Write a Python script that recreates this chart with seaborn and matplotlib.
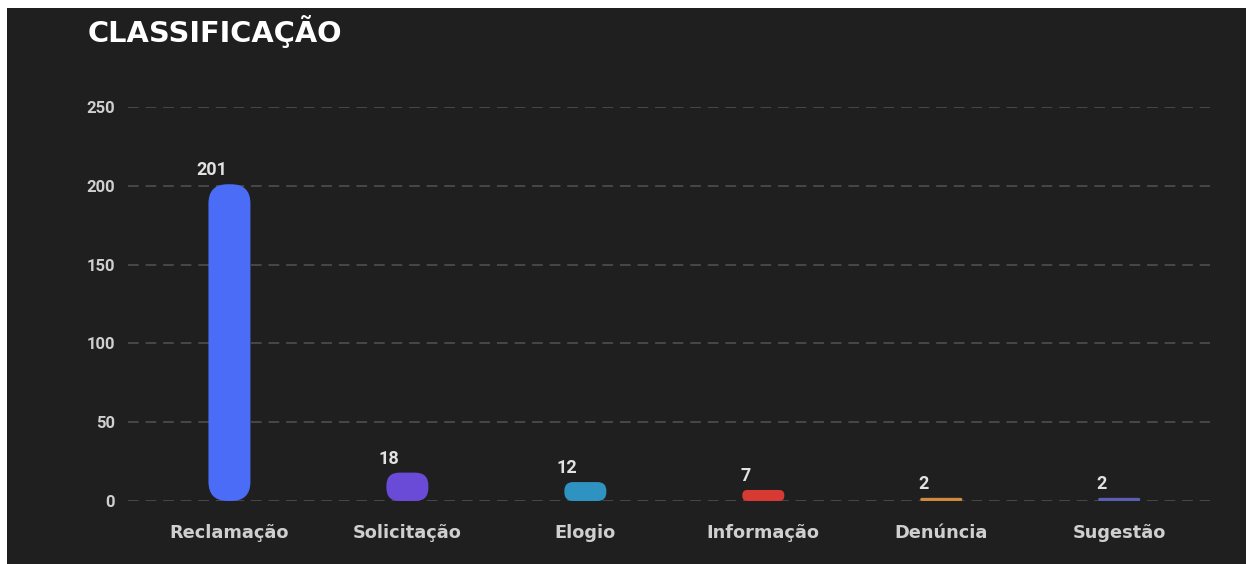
import matplotlib
matplotlib.use("Agg")
import matplotlib.pyplot as plt
import seaborn as sns
import pandas as pd
from matplotlib.patches import FancyBboxPatch, Rectangle

categories = ["Reclamação", "Solicitação", "Elogio", "Informação", "Denúncia", "Sugestão"]
values = [201, 18, 12, 7, 2, 2]
colors = ["#4a6cf7", "#6a4bd8", "#2f93c2", "#d63a33", "#d0893f", "#5b5fb2"]
yticks = [0, 50, 100, 150, 200, 250]
title = "CLASSIFICAÇÃO"

BG = "#1f1f1f"
W, H = 1246, 564
sns.set_theme(style="dark")
fig = plt.figure(figsize=(W / 100, H / 100), dpi=100, facecolor=BG)
ax = fig.add_axes([128 / W, 1 - 501 / H, (1210 - 128) / W, (501 - 107) / H])
ax.set_facecolor(BG)

df = pd.DataFrame({"cat": categories, "val": values})
bw = 0.236
sns.barplot(data=df, x="cat", y="val", hue="cat", palette=colors, width=bw,
            legend=False, ax=ax, dodge=False, saturation=1)

xlim = (-0.57, 5.51)
ylim = (0, 250)
ax.set_xlim(*xlim)
ax.set_ylim(*ylim)

# aspect between y-units per pixel and x-units per pixel
xpp = (xlim[1] - xlim[0]) / (1210 - 128)
ypp = (ylim[1] - ylim[0]) / (501 - 107)
ma = ypp / xpp

for p in list(ax.patches):
    x0, y0 = p.get_x(), p.get_y()
    w, h = p.get_width(), p.get_height()
    fc = p.get_facecolor()
    p.remove()
    r = min(w / 2, (h / ma) / 2) * 0.92
    r = max(r, 1e-4)
    fb = FancyBboxPatch((x0, y0), w, h,
                        boxstyle=f"round,pad=0,rounding_size={r}",
                        mutation_aspect=ma, facecolor=fc, edgecolor="none",
                        zorder=3, clip_on=False)
    ax.add_patch(fb)

for i, v in enumerate(values):
    ax.annotate(str(v), (i, v), xytext=(-13, 3.5), textcoords="offset points",
                ha="center", va="bottom", color="#e2e2e2",
                fontsize=13, fontweight="bold", family="Roboto", zorder=4)

ax.set_yticks(yticks)
ax.set_yticklabels([str(t) for t in yticks])
ax.grid(axis="y", color="#525252", linestyle=(0, (7, 4.5)), linewidth=1.1)
ax.grid(axis="x", visible=False)
ax.set_axisbelow(True)
for s in ax.spines.values():
    s.set_visible(False)
ax.tick_params(axis="both", length=0)
ax.tick_params(axis="x", pad=16.5)
ax.tick_params(axis="y", pad=9.5)
for lab in ax.get_xticklabels():
    lab.set_family("DejaVu Sans")
    lab.set_fontweight("bold")
    lab.set_fontsize(12.8)
    lab.set_color("#cfcfcf")
for lab in ax.get_yticklabels():
    lab.set_family("Roboto")
    lab.set_fontweight("bold")
    lab.set_fontsize(12)
    lab.set_color("#cfcfcf")
ax.set_xlabel("")
ax.set_ylabel("")

fig.text(88 / W, 1 - 32 / H, title, ha="left", va="center", color="white",
         fontsize=20.8, fontweight="bold", family="DejaVu Sans")

# white margin strips of the screenshot
fig.patches.append(Rectangle((0, 0), 7 / W, 1, transform=fig.transFigure,
                             facecolor="white", edgecolor="none", zorder=10))
fig.patches.append(Rectangle((0, 1 - 8 / H), 1, 8 / H, transform=fig.transFigure,
                             facecolor="white", edgecolor="none", zorder=10))

fig.savefig("out.png", dpi=100, facecolor=BG)
